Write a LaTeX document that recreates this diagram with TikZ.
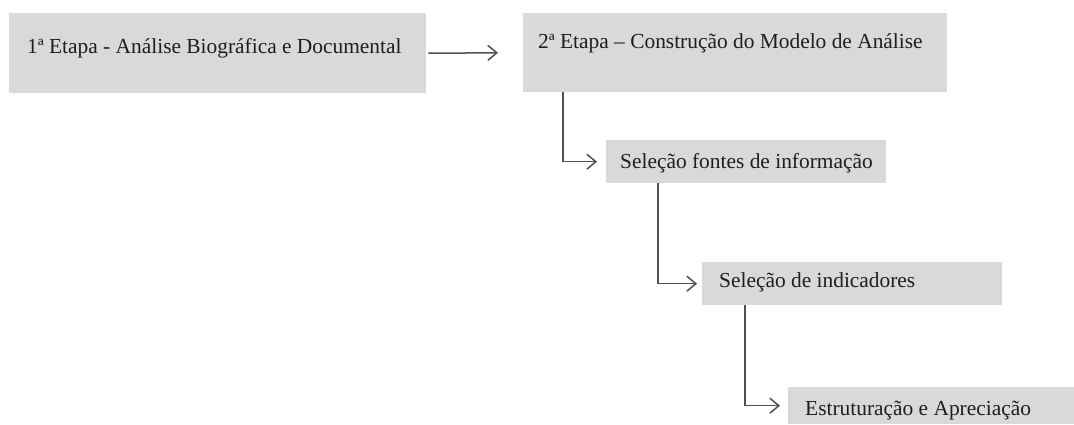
\documentclass[tikz,border=0pt]{standalone}
\usepackage{fontspec}
\setmainfont{Liberation Serif}
\usetikzlibrary{arrows.meta}
\definecolor{boxgray}{RGB}{217,217,217}
\definecolor{linegray}{RGB}{80,80,80}
\definecolor{txtgray}{RGB}{30,30,30}
\begin{document}
\begin{tikzpicture}[x=1pt,y=-1pt,
  box/.style={fill=boxgray, draw=none, anchor=north west, inner sep=0pt},
  lbl/.style={anchor=west, inner sep=0pt, text=txtgray, font=\fontsize{21.4}{24}\selectfont},
  conn/.style={draw=linegray, line width=1.5pt, -{Straight Barb[length=9pt,width=15pt,line width=1.5pt]}}]
\useasboundingbox (0,0) rectangle (1074,424);
\clip (0,0) rectangle (1074,424);
\fill[white] (0,0) rectangle (1074,424);
\node[box, minimum width=417pt, minimum height=80pt] (b1) at (9,13) {};
\node[box, minimum width=424pt, minimum height=79pt] (b2) at (523,13) {};
\node[box, minimum width=280pt, minimum height=43pt] (b3) at (606,140) {};
\node[box, minimum width=300pt, minimum height=43pt] (b4) at (702,262) {};
\node[box, minimum width=290pt, minimum height=37pt] (b5) at (788,387) {};
\node[lbl] (t1) at (27,48) {1ª Etapa - Análise Biográfica e Documental};
\node[lbl] (t2) at (538,43) {2ª Etapa – Construção do Modelo de Análise};
\node[lbl] (t3) at (620,163) {Seleção fontes de informação};
\node[lbl] (t4) at (719,282) {Seleção de indicadores};
\node[lbl] (t5) at (805,411) {Estruturação e Apreciação};
\draw[conn, shorten <=2pt, shorten >=25pt] (b1.east) -- (b2.west);
\draw[conn, shorten >=9pt] ([xshift=40pt]b2.south west) |- (b3.west);
\draw[conn, shorten >=5pt] ([xshift=52pt]b3.south west) |- (b4.west);
\draw[conn, shorten >=8pt] ([xshift=43pt]b4.south west) |- (b5.west);
\end{tikzpicture}
\end{document}
